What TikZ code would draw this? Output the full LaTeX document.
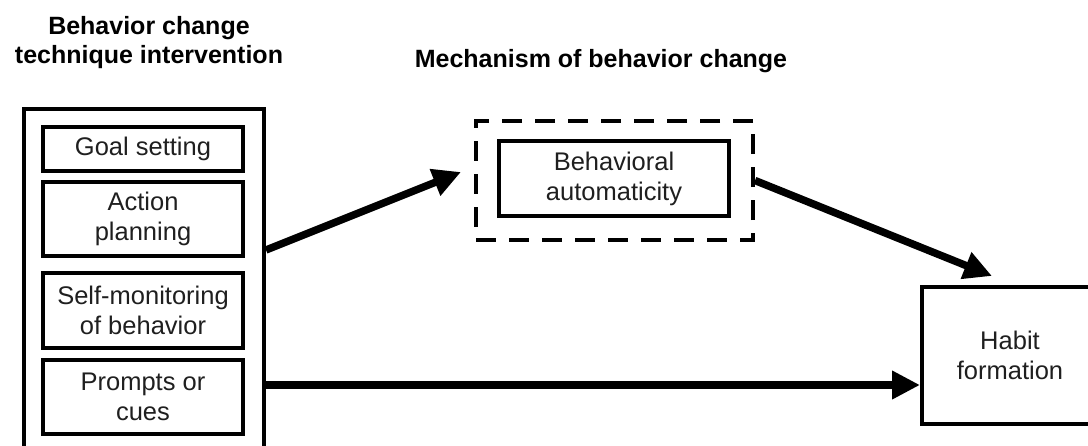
\documentclass[tikz,border=0pt]{standalone}
\usepackage{fontspec}
\setmainfont{Liberation Sans}
\usetikzlibrary{arrows.meta}
\begin{document}
\begin{tikzpicture}[x=1pt,y=1pt,
  box/.style={draw, line width=4pt, inner sep=0pt, align=center, text=black!88, font=\fontsize{25.5}{30}\selectfont},
  title/.style={inner sep=0pt, align=center, font=\bfseries\fontsize{25}{28.5}\selectfont},
  dashbox/.style={draw, line width=4pt, dash pattern=on 20pt off 13pt, inner sep=0pt},
  arr/.style={line width=7.5pt, -{Triangle[length=28pt,width=27pt]}}]
\useasboundingbox (0,0) rectangle (1088,-445);
\clip (0,0) rectangle (1088,-445);
% titles
\node[title, anchor=north] (t1) at (149,-16.5) {Behavior change\\technique intervention};
\node[title, anchor=base] (t2) at (601,-67) {Mechanism of behavior change};
% left group
\node[box, minimum width=240pt, minimum height=361pt] (outer) at (144,-289.5) {};
\node[box, minimum width=200pt, minimum height=44pt] (goal) at (143,-149) {Goal setting};
\node[box, minimum width=200pt, minimum height=74pt] (action) at (143,-219) {Action\\planning};
\node[box, minimum width=200pt, minimum height=75pt] (self) at (143,-310.5) {Self-monitoring\\of behavior};
\node[box, minimum width=200pt, minimum height=74pt] (prompts) at (143,-397) {Prompts or\\cues};
% mechanism
\node[dashbox, minimum width=277pt, minimum height=119pt] (mech) at (614.5,-180.5) {};
\node[box, minimum width=230pt, minimum height=75pt] (auto) at (614,-178.5) {Behavioral\\automaticity};
% outcome
\node[box, minimum width=176pt, minimum height=137pt] (habit) at (1010,-355.5) {Habit\\formation};
% arrows
\draw[arr] ([yshift=39.5pt]outer.east) -- ([xshift=-13pt,yshift=8.5pt]mech.west);
\draw[arr] (mech.east) -- ([xshift=-18pt,yshift=9pt]habit.north);
\draw[arr] ([yshift=-95.5pt]outer.east) -- ([yshift=-29.5pt]habit.west);
\end{tikzpicture}
\end{document}
